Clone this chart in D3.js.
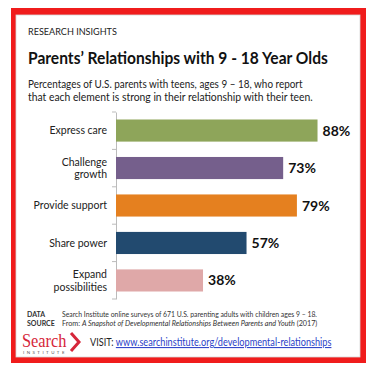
<!DOCTYPE html>
<html lang="en">
<head>
<meta charset="UTF-8">
<title>Parents' Relationships with 9 - 18 Year Olds</title>
<script src="https://d3js.org/d3.v7.min.js"></script>
<style>
  body { margin: 0; padding: 0; background: #fff; }
  svg { display: block; font-family: Lato, "Open Sans", sans-serif; }
  .lbl { font-size: 10.5px; fill: #222; }
  .val { font-size: 14px; font-weight: bold; fill: #111; }
</style>
</head>
<body>
<div id="chart"></div>
<script>
// data
const categories = [["Express care"], ["Challenge", "growth"], ["Provide support"], ["Share power"], ["Expand", "possibilities"]];
const values = [88, 73, 79, 57, 38];
const colors = ["#8ea55a", "#755f8c", "#e5801f", "#224a6f", "#dfa8a8"];

const width = 379, height = 378;

const svg = d3.select("#chart").append("svg")
    .attr("width", width)
    .attr("height", height);

// squeeze a text element horizontally so it spans w px (the original uses Calibri, narrower)
function fitWidth(sel, w) {
  const node = sel.node();
  const bw = node.getBBox().width;
  const x0 = +sel.attr("x");
  const s = w / bw;
  sel.attr("transform", `translate(${x0},0) scale(${s},1) translate(${-x0},0)`);
  return sel;
}

// red frame
svg.append("rect").attr("x", 11).attr("y", 8).attr("width", 355).attr("height", 355).attr("fill", "#f01c1c");
svg.append("rect").attr("x", 16).attr("y", 15).attr("width", 344).attr("height", 342).attr("fill", "#fff")
    .attr("stroke", "#d8d8d8").attr("stroke-width", 0.8);

// header
fitWidth(svg.append("text").attr("x", 28).attr("y", 35)
    .style("font-size", "9.5px").style("fill", "#222")
    .text("RESEARCH INSIGHTS"), 89);

fitWidth(svg.append("text").attr("x", 28).attr("y", 64)
    .style("font-size", "17px").style("font-weight", "bold").style("fill", "#111")
    .text("Parents’ Relationships with 9 - 18 Year Olds"), 300);

const sub = ["Percentages of U.S. parents with teens, ages 9 – 18, who report",
             "that each element is strong in their relationship with their teen."];
const subW = [275, 285];
svg.append("g").selectAll("text").data(sub).join("text")
    .attr("x", 28).attr("y", (d, i) => 88 + i * 13)
    .style("font-size", "10.5px").style("fill", "#222")
    .text(d => d)
    .each(function(d, i) { fitWidth(d3.select(this), subW[i]); });

// chart
const x = d3.scaleLinear().domain([0, 100]).range([116, 345]);
const y = d3.scaleBand().domain(d3.range(values.length)).range([112, 299]).paddingInner(0.41).paddingOuter(0.2);

const yAxis = d3.axisLeft(y).tickSize(0).tickFormat("");
const ag = svg.append("g").attr("transform", "translate(116,0)").call(yAxis);
ag.select(".domain").attr("stroke", "#bbb");
// tick marks at band boundaries
const bounds = d3.range(values.length + 1).map(i => 112 + i * (187 / values.length));
ag.selectAll(".bnd").data(bounds).join("line")
    .attr("class", "bnd")
    .attr("x1", -4).attr("x2", 0)
    .attr("y1", d => d).attr("y2", d => d)
    .attr("stroke", "#bbb");

svg.append("g").selectAll("rect").data(values).join("rect")
    .attr("x", x(0))
    .attr("y", (d, i) => y(i))
    .attr("width", d => x(d) - x(0))
    .attr("height", y.bandwidth())
    .attr("fill", (d, i) => colors[i]);

svg.append("g").selectAll("text").data(values).join("text")
    .attr("class", "val")
    .attr("x", d => x(d) + 5)
    .attr("y", (d, i) => y(i) + y.bandwidth() / 2)
    .attr("dy", "0.36em")
    .text(d => d + "%");

const lg = svg.append("g").selectAll("text").data(categories).join("text")
    .attr("class", "lbl")
    .attr("text-anchor", "end")
    .attr("x", 107)
    .attr("y", (d, i) => y(i) + y.bandwidth() / 2);
lg.selectAll("tspan").data(d => d.map((t, j) => ({t, j, n: d.length}))).join("tspan")
    .attr("x", 107)
    .attr("dy", o => o.j === 0 ? (o.n === 1 ? "0.36em" : "-0.24em") : "1.2em")
    .text(o => o.t);

// footer
const foot = svg.append("g").style("font-size", "7px").style("fill", "#333");
foot.append("text").attr("x", 27).attr("y", 317).style("font-weight", "bold").text("DATA");
foot.append("text").attr("x", 27).attr("y", 326).style("font-weight", "bold").text("SOURCE");
fitWidth(foot.append("text").attr("x", 62).attr("y", 317)
    .text("Search Institute online surveys of 671 U.S. parenting adults with children ages 9 – 18."), 256);
const f2 = foot.append("text").attr("x", 62).attr("y", 326);
f2.append("tspan").text("From: ");
f2.append("tspan").style("font-style", "italic").text("A Snapshot of Developmental Relationships Between Parents and Youth");
f2.append("tspan").text(" (2017)");
fitWidth(f2, 256);

// logo
fitWidth(svg.append("text").attr("x", 22).attr("y", 347)
    .style("font-family", "'Liberation Serif', 'DejaVu Serif', serif")
    .style("font-size", "19px").style("fill", "#d6263a")
    .text("Search"), 45);
svg.append("path").attr("d", "M71,333 L79,342 L71,351")
    .attr("fill", "none").attr("stroke", "#d6263a").attr("stroke-width", 3);
fitWidth(svg.append("text").attr("x", 23).attr("y", 354)
    .style("font-size", "3.6px").style("letter-spacing", "2px").style("fill", "#555")
    .text("INSTITUTE"), 44);

const visit = svg.append("text").attr("x", 90).attr("y", 346).style("font-size", "10.5px");
visit.append("tspan").style("fill", "#222").text("VISIT: ");
visit.append("tspan").style("fill", "#2a3fc8").style("text-decoration", "underline")
    .text("www.searchinstitute.org/developmental-relationships");
fitWidth(visit, 242);
</script>
</body>
</html>
